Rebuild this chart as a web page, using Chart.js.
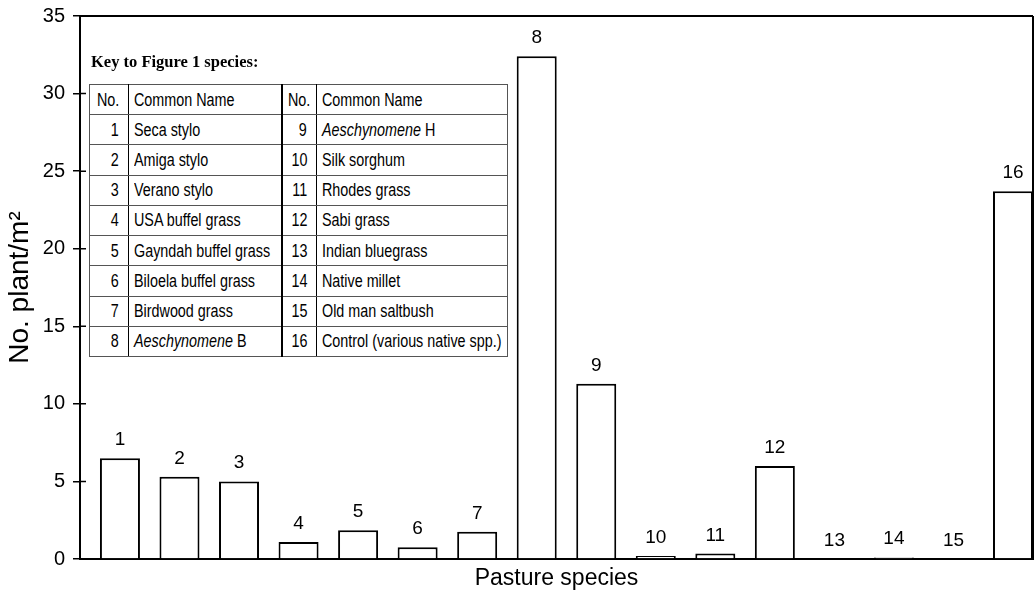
<!DOCTYPE html>
<html><head><meta charset="utf-8">
<script src="https://cdn.jsdelivr.net/npm/chart.js@4.4.1/dist/chart.umd.min.js"></script>
<style>
html,body{margin:0;padding:0;background:#fff;}
#wrap{position:relative;width:1034px;height:592px;overflow:hidden;}
#c{position:absolute;left:0;top:0;}
#keyTitle{position:absolute;left:91px;top:52px;font:bold 16.5px "Liberation Serif";color:#000;white-space:nowrap;line-height:20px;}
#key{position:absolute;left:89px;top:84px;width:418px;height:273px;border-collapse:collapse;table-layout:fixed;font-family:"Liberation Sans";font-size:17.5px;color:#000;border:1.5px solid #000;background:#fff;}
#key td{border:1px solid #555;padding:0;white-space:nowrap;overflow:visible;line-height:18px;}
#key td.n{text-align:right;padding-right:9px;}
#key td.t{text-align:left;padding-left:5px;}
#key td span{display:inline-block;transform:scaleX(0.82);}
#key td.n span{transform-origin:right center;}
#key td.t span{transform-origin:left center;}
#key td.mid{border-right:2px solid #000;}
#key td.first{border-right:1px solid #000;}
</style>
</head>
<body>
<div id="wrap">
<canvas id="c" width="1034" height="592"></canvas>
<div id="keyTitle"></div>
<table id="key"><colgroup><col style="width:39px"><col style="width:153px"><col style="width:35px"><col style="width:191px"></colgroup><tbody id="keyBody"></tbody></table>
</div>
<script>
// ---- data ----
const categories = [1,2,3,4,5,6,7,8,9,10,11,12,13,14,15,16];
const values = [6.5,5.3,5.0,1.1,1.85,0.75,1.75,32.4,11.3,0.2,0.35,6.0,0,0.1,0,23.7];
const yTicks = [0,5,10,15,20,25,30,35];
const xTitle = 'Pasture species';
const yTitle = 'No. plant/m²';
const keyTitle = 'Key to Figure 1 species:';
const keyHeaders = ['No.','Common Name','No.','Common Name'];
const keyNames = ['Seca stylo','Amiga stylo','Verano stylo','USA buffel grass','Gayndah buffel grass','Biloela buffel grass','Birdwood grass','Aeschynomene B','Aeschynomene H','Silk sorghum','Rhodes grass','Sabi grass','Indian bluegrass','Native millet','Old man saltbush','Control (various native spp.)'];
const italicTerms = ['Aeschynomene'];

// ---- key table ----
document.getElementById('keyTitle').textContent = keyTitle;
function nameHTML(s){
  let h = s.replace(/&/g,'&amp;').replace(/</g,'&lt;');
  italicTerms.forEach(t => { h = h.split(t).join('<i>'+t+'</i>'); });
  return h;
}
const half = keyNames.length/2;
const tb = document.getElementById('keyBody');
let html = '<tr>' +
  '<td class="n first"><span>'+keyHeaders[0]+'</span></td>' +
  '<td class="t mid"><span>'+keyHeaders[1]+'</span></td>' +
  '<td class="n first"><span>'+keyHeaders[2]+'</span></td>' +
  '<td class="t"><span>'+keyHeaders[3]+'</span></td></tr>';
for (let i=0;i<half;i++){
  html += '<tr>' +
    '<td class="n first"><span>'+categories[i]+'</span></td>' +
    '<td class="t mid"><span>'+nameHTML(keyNames[i])+'</span></td>' +
    '<td class="n first"><span>'+categories[i+half]+'</span></td>' +
    '<td class="t"><span>'+nameHTML(keyNames[i+half])+'</span></td></tr>';
}
tb.innerHTML = html;

// ---- plugins ----
const framePlugin = {
  id:'frame',
  afterDatasetsDraw(chart){
    const {ctx, chartArea:a, scales} = chart;
    ctx.save();
    ctx.strokeStyle='#000';
    ctx.lineWidth=2;
    ctx.beginPath();
    ctx.moveTo(a.left, a.top); ctx.lineTo(a.right, a.top);
    ctx.moveTo(a.right, a.top); ctx.lineTo(a.right, a.bottom);
    ctx.stroke();
    // inner part of y tick marks (ticks cross the axis)
    const ys = scales.y;
    ctx.lineWidth=1.5;
    ctx.beginPath();
    ys.ticks.forEach((t,i)=>{
      const y = ys.getPixelForTick(i);
      ctx.moveTo(a.left, y); ctx.lineTo(a.left+6, y);
    });
    ctx.stroke();
    // bar number labels
    const meta = chart.getDatasetMeta(0);
    ctx.fillStyle='#000';
    ctx.font='19px "Liberation Sans", Arial, sans-serif';
    ctx.textAlign='center';
    ctx.textBaseline='alphabetic';
    meta.data.forEach((el,i)=>{
      ctx.fillText(String(categories[i]), el.x, el.y - 13);
    });
    ctx.restore();
  }
};

new Chart(document.getElementById('c'), {
  type:'bar',
  data:{
    datasets:[{
      data: categories.map((c,i)=>({x:c, y:values[i]})),
      backgroundColor:'#fff',
      borderColor:'#000',
      borderWidth:2,
      barPercentage:0.672,
      categoryPercentage:1
    }]
  },
  options:{
    responsive:false,
    devicePixelRatio:1,
    animation:false,
    layout:{padding:{top:16,right:1,left:0,bottom:0}},
    plugins:{legend:{display:false},tooltip:{enabled:false}},
    scales:{
      x:{
        type:'linear',
        offset:false,
        min: categories[0]-0.671,
        max: categories[categories.length-1]+0.336,
        afterBuildTicks: s => { s.ticks = categories.map(v=>({value:v})); },
        afterFit: s => { s.height = 33; s.paddingLeft = 0; s.paddingRight = 0; },
        ticks:{display:false},
        grid:{display:false,offset:false},
        border:{display:true,color:'#000',width:2},
        title:{display:true,text:xTitle,color:'#000',font:{family:'"Liberation Sans", Arial, sans-serif',size:23},padding:{top:0,bottom:0}}
      },
      y:{
        min: yTicks[0],
        max: yTicks[yTicks.length-1],
        afterBuildTicks: s => { s.ticks = yTicks.map(v=>({value:v})); },
        afterFit: s => { s.width = 80; s.paddingTop = 0; s.paddingBottom = 0; },
        ticks:{color:'#000',font:{family:'"Liberation Sans", Arial, sans-serif',size:20},padding:8},
        grid:{drawOnChartArea:false,drawTicks:true,tickLength:7,color:'#000',lineWidth:1.5},
        border:{display:true,color:'#000',width:2},
        title:{display:true,text:yTitle,color:'#000',font:{family:'"Liberation Sans", Arial, sans-serif',size:28},padding:{top:3,bottom:0}}
      }
    }
  },
  plugins:[framePlugin]
});
</script>
</body></html>
